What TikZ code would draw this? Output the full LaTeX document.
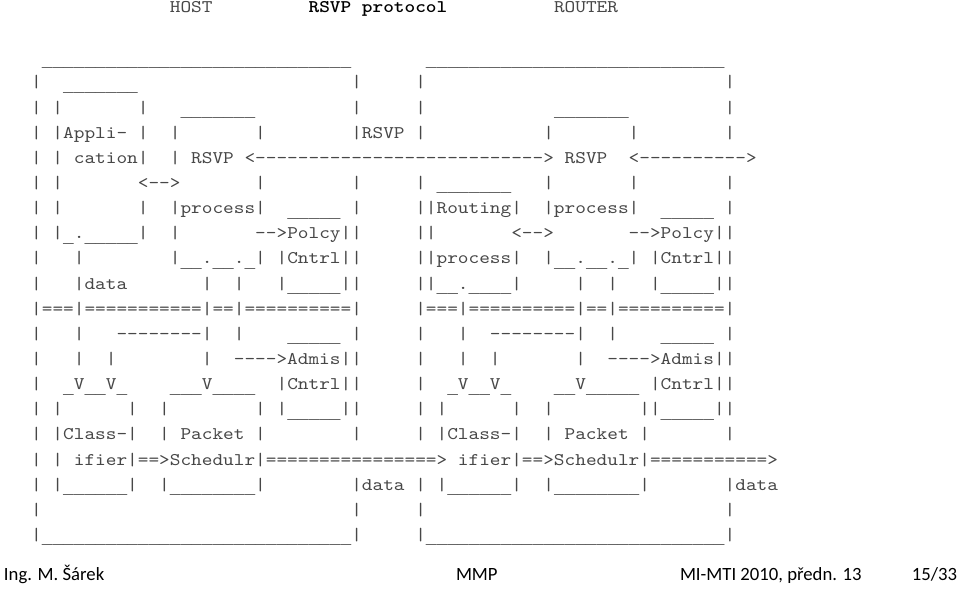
\documentclass[tikz,border=0pt]{standalone}
\usepackage{fontspec}
\newfontfamily\asc{lmmono10-regular.otf}[BoldFont=lmmonolt10-bold.otf, FakeStretch=1.1431]
\newfontfamily\uscfont{Liberation Mono}
\newfontfamily\footfnt{Carlito}
\ExplSyntaxOn
\cs_new_eq:NN \Rep \prg_replicate:nn
\ExplSyntaxOff
\newdimen\cw \cw=10.67pt
\newcommand\colseg[2]{\rlap{\hskip#1\cw\relax#2}}
\newcommand\usc[1]{\raisebox{-3.5pt}{\uscfont\fontsize{17.78pt}{20pt}\selectfont\Rep{#1}{\_}}}
\newcommand\dsh[1]{\Rep{#1}{-\kern0pt}}
\newcommand\eqs[1]{\Rep{#1}{=}}
\tikzset{
  asline/.style={anchor=base west, inner sep=0pt, outer sep=0pt,
    font=\asc\fontsize{17.78pt}{20pt}\selectfont, text=black!72},
  ftext/.style={anchor=base west, inner sep=0pt, outer sep=0pt,
    font=\footfnt\fontsize{18.7pt}{22pt}\selectfont, text=black}
}
\begin{document}
\begin{tikzpicture}[x=1pt,y=-1pt]
\path[use as bounding box, fill=white] (0,0) rectangle (960,591);
\node[asline] (l0) at (20,12.5) {\colseg{14}{HOST}\colseg{27}{\bfseries\color{black}RSVP protocol}\colseg{50}{ROUTER}};
\node[asline] (l2) at (20,62.78) {\colseg{2}{\usc{29}}\colseg{38}{\usc{28}}};
\node[asline] (l3) at (20,87.92) {\colseg{1}{|}\colseg{4}{\usc{7}}\colseg{31}{|}\colseg{37}{|}\colseg{66}{|}};
\node[asline] (l4) at (20,113.06) {\colseg{1}{|}\colseg{3}{|}\colseg{11}{|}\colseg{15}{\usc{7}}\colseg{31}{|}\colseg{37}{|}\colseg{50}{\usc{7}}\colseg{66}{|}};
\node[asline] (l5) at (20,138.2) {\colseg{1}{|}\colseg{3}{|Appli-}\colseg{11}{|}\colseg{14}{|}\colseg{22}{|}\colseg{31}{|RSVP}\colseg{37}{|}\colseg{49}{|}\colseg{57}{|}\colseg{66}{|}};
\node[asline] (l6) at (20,163.34) {\colseg{1}{|}\colseg{3}{|}\colseg{5}{cation|}\colseg{14}{|}\colseg{16}{RSVP}\colseg{21}{<\dsh{27}>}\colseg{51}{RSVP}\colseg{57}{<\dsh{10}>}};
\node[asline] (l7) at (20,188.48) {\colseg{1}{|}\colseg{3}{|}\colseg{11}{<\dsh{2}>}\colseg{22}{|}\colseg{31}{|}\colseg{37}{|}\colseg{39}{\usc{7}}\colseg{49}{|}\colseg{57}{|}\colseg{66}{|}};
\node[asline] (l8) at (20,213.62) {\colseg{1}{|}\colseg{3}{|}\colseg{11}{|}\colseg{14}{|process|}\colseg{25}{\usc{5}}\colseg{31}{|}\colseg{37}{||Routing|}\colseg{49}{|process|}\colseg{60}{\usc{5}}\colseg{66}{|}};
\node[asline] (l9) at (20,238.76) {\colseg{1}{|}\colseg{3}{|\usc{1}.\usc{5}|}\colseg{14}{|}\colseg{22}{\dsh{2}>Polcy||}\colseg{37}{||}\colseg{46}{<\dsh{2}>}\colseg{57}{\dsh{2}>Polcy||}};
\node[asline] (l10) at (20,263.9) {\colseg{1}{|}\colseg{5}{|}\colseg{14}{|\usc{2}.\usc{2}.\usc{1}|}\colseg{24}{|Cntrl||}\colseg{37}{||process|}\colseg{49}{|\usc{2}.\usc{2}.\usc{1}|}\colseg{59}{|Cntrl||}};
\node[asline] (l11) at (20,289.04) {\colseg{1}{|}\colseg{5}{|data}\colseg{17}{|}\colseg{20}{|}\colseg{24}{|\usc{5}||}\colseg{37}{||\usc{2}.\usc{4}|}\colseg{52}{|}\colseg{55}{|}\colseg{59}{|\usc{5}||}};
\node[asline] (l12) at (20,314.18) {\colseg{1}{|\eqs{3}|\eqs{11}|\eqs{2}|\eqs{10}|}\colseg{37}{|\eqs{3}|\eqs{10}|\eqs{2}|\eqs{10}|}};
\node[asline] (l13) at (20,339.32) {\colseg{1}{|}\colseg{5}{|}\colseg{9}{\dsh{8}|}\colseg{20}{|}\colseg{25}{\usc{5}}\colseg{31}{|}\colseg{37}{|}\colseg{41}{|}\colseg{44}{\dsh{8}|}\colseg{55}{|}\colseg{60}{\usc{5}}\colseg{66}{|}};
\node[asline] (l14) at (20,364.46) {\colseg{1}{|}\colseg{5}{|}\colseg{8}{|}\colseg{17}{|}\colseg{20}{\dsh{4}>Admis||}\colseg{37}{|}\colseg{41}{|}\colseg{44}{|}\colseg{52}{|}\colseg{55}{\dsh{4}>Admis||}};
\node[asline] (l15) at (20,389.6) {\colseg{1}{|}\colseg{4}{\usc{1}V\usc{2}V\usc{1}}\colseg{14}{\usc{3}V\usc{4}}\colseg{24}{|Cntrl||}\colseg{37}{|}\colseg{40}{\usc{1}V\usc{2}V\usc{1}}\colseg{50}{\usc{2}V\usc{5}}\colseg{59}{|Cntrl||}};
\node[asline] (l16) at (20,414.74) {\colseg{1}{|}\colseg{3}{|}\colseg{10}{|}\colseg{13}{|}\colseg{22}{|}\colseg{24}{|\usc{5}||}\colseg{37}{|}\colseg{39}{|}\colseg{46}{|}\colseg{49}{|}\colseg{58}{||\usc{5}||}};
\node[asline] (l17) at (20,439.88) {\colseg{1}{|}\colseg{3}{|Class-|}\colseg{13}{|}\colseg{15}{Packet}\colseg{22}{|}\colseg{31}{|}\colseg{37}{|}\colseg{39}{|Class-|}\colseg{49}{|}\colseg{51}{Packet}\colseg{58}{|}\colseg{66}{|}};
\node[asline] (l18) at (20,465.02) {\colseg{1}{|}\colseg{3}{|}\colseg{5}{ifier|==>Schedulr|\eqs{16}>}\colseg{41}{ifier|==>Schedulr|\eqs{11}>}};
\node[asline] (l19) at (20,490.16) {\colseg{1}{|}\colseg{3}{|\usc{6}|}\colseg{13}{|\usc{8}|}\colseg{31}{|data}\colseg{37}{|}\colseg{39}{|\usc{6}|}\colseg{49}{|\usc{8}|}\colseg{66}{|data}};
\node[asline] (l20) at (20,515.3) {\colseg{1}{|}\colseg{31}{|}\colseg{37}{|}\colseg{66}{|}};
\node[asline] (l21) at (20,540.44) {\colseg{1}{|\usc{29}|}\colseg{37}{|\usc{28}|}};
\node[ftext] (f1) at (4,580) {Ing. M. Šárek};
\node[ftext] (f2) at (456,580) {MMP};
\node[ftext] (f3) at (680,580) {MI-MTI 2010, předn. 13};
\node[ftext, anchor=base east] (f4) at (957,580) {15/33};
\end{tikzpicture}
\end{document}
